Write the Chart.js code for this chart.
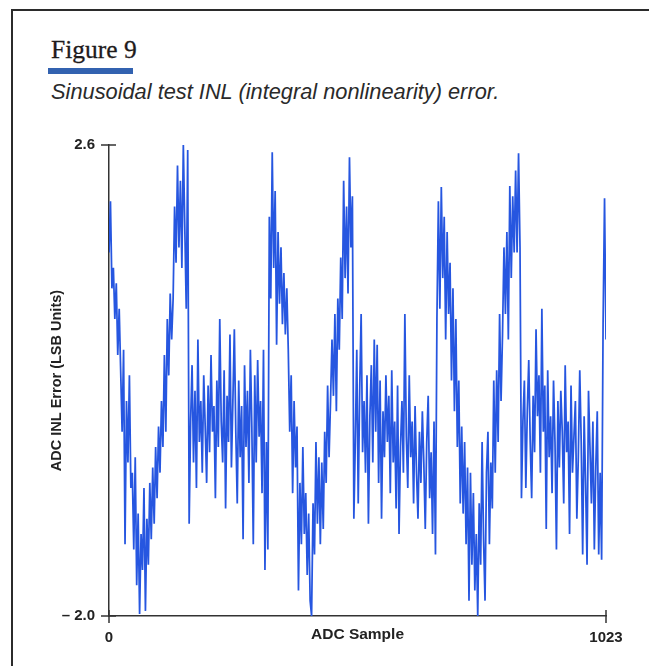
<!DOCTYPE html>
<html lang="en">
<head>
<meta charset="UTF-8">
<title>Figure 9</title>
<script src="https://cdn.jsdelivr.net/npm/chart.js"></script>
<style>
  html, body { margin: 0; padding: 0; background: #fff; }
  body { width: 655px; height: 666px; position: relative; overflow: hidden; }
  .marco-izq { position: absolute; left: 11px; top: 9px; width: 1.5px; height: 657px; background: #2b2b2b; }
  .marco-sup { position: absolute; left: 11px; top: 9px; width: 638px; height: 1.5px; background: #2b2b2b; }
  #titulo { position: absolute; left: 51px; top: 37px; font: 25.5px 'Liberation Serif', serif; line-height: 25px; color: #1f1b1c; white-space: nowrap; -webkit-text-stroke: 0.3px #1f1b1c; }
  #barra { position: absolute; left: 48px; top: 68px; width: 85px; height: 6px; background: #3262b0; }
  #subtitulo { position: absolute; left: 51px; top: 80px; font: italic 21.8px 'Liberation Sans', Arial, sans-serif; line-height: 24px; color: #2a2a2a; white-space: nowrap; }
  #grafico { position: absolute; left: 0; top: 120px; }
</style>
</head>
<body>
<div class="marco-izq"></div>
<div class="marco-sup"></div>
<div id="titulo">Figure 9</div>
<div id="barra"></div>
<div id="subtitulo">Sinusoidal test INL (integral nonlinearity) error.</div>
<canvas id="grafico" width="655" height="546"></canvas>
<script>
// one value every 3 ADC samples
const sampleStep = 3;
const inlError = [
  // start, first fall and trough
  1.55, 2.05, 1.2, 1.4, 0.9, 1.25, 0.55, 1.0,
  0.4, -0.2, 0.6, -1.3, 0.1, -0.5, 0.35, -0.75,
  -0.6, -1.35, -0.45, -1.7, -1.0, -1.98, -1.2, -1.55, -0.75, -1.95, -1.05,
  -1.5, -0.7, -1.25, -0.55, -1.1, -0.35, -0.85, -0.15, -0.6, 0.1, -0.35,
  0.55, -0.2, 0.9, 0.35, 1.15, 0.7,
  // first peak
  1.1, 2.0, 1.45, 2.4, 1.6, 2.25, 1.4, 2.6, 1.8, 1.0, 2.55,
  -1.1,
  // first plateau
  -0.1, 0.45, -0.5, 0.2, -0.75, 0.7, -0.3, 0.1, -0.6, 0.35,
  -0.15, -0.7, 0.25, -0.4, 0.55, -0.2, 0.05, -0.85, 0.3, -0.35,
  0.9, -0.1, -0.5, 0.4, -0.95, 0.15, -0.3, 0.75, -0.55, 0.1,
  0.8, -0.2, -0.9, 0.3, -0.45, 0.05, -1.25, 0.45, -0.35, 0.2,
  -0.7, 0.6, -0.15, -1.3, 0.35, -0.5, 0.5, -0.25, 0.1, -0.8,
  0.6, -1.55, -0.3, -1.35,
  // second peak, fall and trough
  1.9, 1.1, 2.53, 1.4, 2.15, 0.65, 1.75, 1.05, 1.6, 0.85, 1.35, 0.75, 1.2,
  0.6, -0.2, 0.35, -0.8, 0.1, -0.55, -0.15,
  -1.75, -0.7, -1.3, -0.35, -1.2, -0.8, -1.6, -1.0, -1.85, -2.0, -0.9,
  -1.4, -0.3, -1.1, -0.45, -1.3, -0.5, -1.15, -0.2, -0.7, 0.25, -0.45, 0.1,
  // third peak
  0.7, 0.15, 0.95, 0.0, 1.1, 0.6, 1.5, 0.9, 2.25, 1.3, 2.0, 1.15, 2.48, 1.6, 2.1,
  -1.05,
  // second plateau
  -0.3, 0.6, -0.9, 0.2, 0.95, -0.4, 0.1, -0.6, 0.35, -1.1,
  -0.05, 0.45, -0.5, 0.7, -0.2, 0.65, -0.7, 0.3, -1.05, 0.0,
  -0.45, 0.35, -0.3, 0.15, -0.8, 0.4, -0.5, -0.1, -0.95, 0.25,
  -1.2, -0.35, 0.1, -0.6, 0.95, -0.25, -0.75, 0.35, -0.45, -0.1,
  -0.9, 0.05, -0.6, -1.05, -0.2, -0.7, 0.0, -0.5, -1.15, -0.3,
  0.15, -0.85, -0.4, -1.2, -0.1, -1.4,
  // fourth peak, fall and trough
  0.9, 2.05, 1.0, 2.19, 1.3, 1.9, 0.7, 1.75, 0.95, 1.45, 0.3, 1.2, 0.0,
  0.9, -0.35, 0.3, -0.9, -0.15, -1.0, -0.3, -1.3, -0.55,
  -1.85, -0.6, -1.5, -0.8, -1.75, -1.2, -2.0,
  -0.9, -1.5, -0.3, -1.25, -1.85, -0.6, -0.2, -1.3, -0.5, -0.95, 0.3,
  -0.6, 0.4, -0.3, 0.95, 0.1, 0.75,
  // fifth peak
  1.6, 0.95, 1.75, 0.7, 2.2, 1.3, 2.1, 1.55, 2.35, 1.55, 2.52, 1.6,
  -0.85,
  // third plateau
  -0.1, 0.3, -0.75, 0.0, 0.5, -0.3, -0.85, 0.15, -0.4, 0.8,
  -0.05, 0.35, -0.6, 1.0, -0.2, 0.25, -1.15, 0.4, -0.45, -0.05,
  -0.8, 0.3, -0.3, -1.35, 0.1, -0.55, 0.2, -0.2, -0.9, 0.45,
  -0.4, -0.1, -1.2, 0.25, -0.6, -0.25, 0.1, -1.05, -0.45, 0.4,
  -0.3, -1.4, -0.05, -0.7, -1.5, 0.2, -0.35, -0.9, -0.1, -1.35,
  -0.55, 0.0, -1.4, -0.6, -1.45,
  // final rise
  0.85, 2.08, 0.7
];

const xTickValues = [0, 1023];
const xTickLabels = ["0", "1023"];
const yTickValues = [-2.0, 2.6];
const yTickLabels = ["\u2013 2.0", "2.6"];
const xAxisTitle = "ADC Sample";
const yAxisTitle = "ADC INL Error (LSB Units)";

const colorEje = "#333";
const colorTexto = "#222";
const colorLinea = "#2656e0";
const familia = "'Liberation Sans', Arial, sans-serif";
const fuenteTicks = { family: familia, size: 15, weight: "bold" };
const fuenteTituloX = { family: familia, size: 15.5, weight: "bold" };
const fuenteTituloY = { family: familia, size: 14.5, weight: "bold" };

const puntos = inlError.map((v, i) => ({ x: i * sampleStep, y: v }));

// tick marks that cross the axis line, like the original
const marcasCruzadas = {
  id: "marcasCruzadas",
  afterDraw(chart) {
    const { ctx, scales: { x, y } } = chart;
    ctx.save();
    ctx.strokeStyle = colorEje;
    ctx.lineWidth = 1.5;
    yTickValues.forEach(v => {
      const py = y.getPixelForValue(v);
      ctx.beginPath();
      ctx.moveTo(x.left - 8, py);
      ctx.lineTo(x.left + 7, py);
      ctx.stroke();
    });
    xTickValues.forEach(v => {
      const px = x.getPixelForValue(v);
      ctx.beginPath();
      ctx.moveTo(px, y.bottom - 6);
      ctx.lineTo(px, y.bottom + 7);
      ctx.stroke();
    });
    ctx.restore();
  }
};

new Chart(document.getElementById("grafico").getContext("2d"), {
  type: "line",
  data: {
    datasets: [{
      data: puntos,
      borderColor: colorLinea,
      borderWidth: 1.75,
      pointRadius: 0,
      tension: 0,
      fill: false
    }]
  },
  options: {
    responsive: false,
    animation: false,
    devicePixelRatio: 1,
    layout: { padding: { left: 0, right: 49, top: 25, bottom: 0 } },
    plugins: { legend: { display: false }, tooltip: { enabled: false } },
    scales: {
      x: {
        type: "linear",
        min: 0,
        max: 1023,
        afterBuildTicks: s => { s.ticks = xTickValues.map(v => ({ value: v })); },
        afterFit: s => { s.height = 50; },
        grid: { display: false, drawTicks: false },
        border: { display: true, color: colorEje, width: 1.5 },
        ticks: {
          autoSkip: false,
          maxRotation: 0,
          padding: 13,
          color: colorTexto,
          font: fuenteTicks,
          callback: v => xTickLabels[xTickValues.indexOf(v)]
        },
        title: { display: true, text: xAxisTitle, color: colorTexto, font: fuenteTituloX, padding: { top: 0, bottom: 22 } }
      },
      y: {
        type: "linear",
        min: -2.0,
        max: 2.6,
        afterBuildTicks: s => { s.ticks = yTickValues.map(v => ({ value: v })); },
        afterFit: s => { s.width = 109; },
        grid: { display: false, drawTicks: false },
        border: { display: true, color: colorEje, width: 1.5 },
        ticks: {
          autoSkip: false,
          padding: 14,
          color: colorTexto,
          font: fuenteTicks,
          callback: v => yTickLabels[yTickValues.indexOf(v)]
        },
        title: { display: true, text: yAxisTitle, color: colorTexto, font: fuenteTituloY, padding: { top: 48, bottom: 0 } }
      }
    }
  },
  plugins: [marcasCruzadas]
});
</script>
</body>
</html>
